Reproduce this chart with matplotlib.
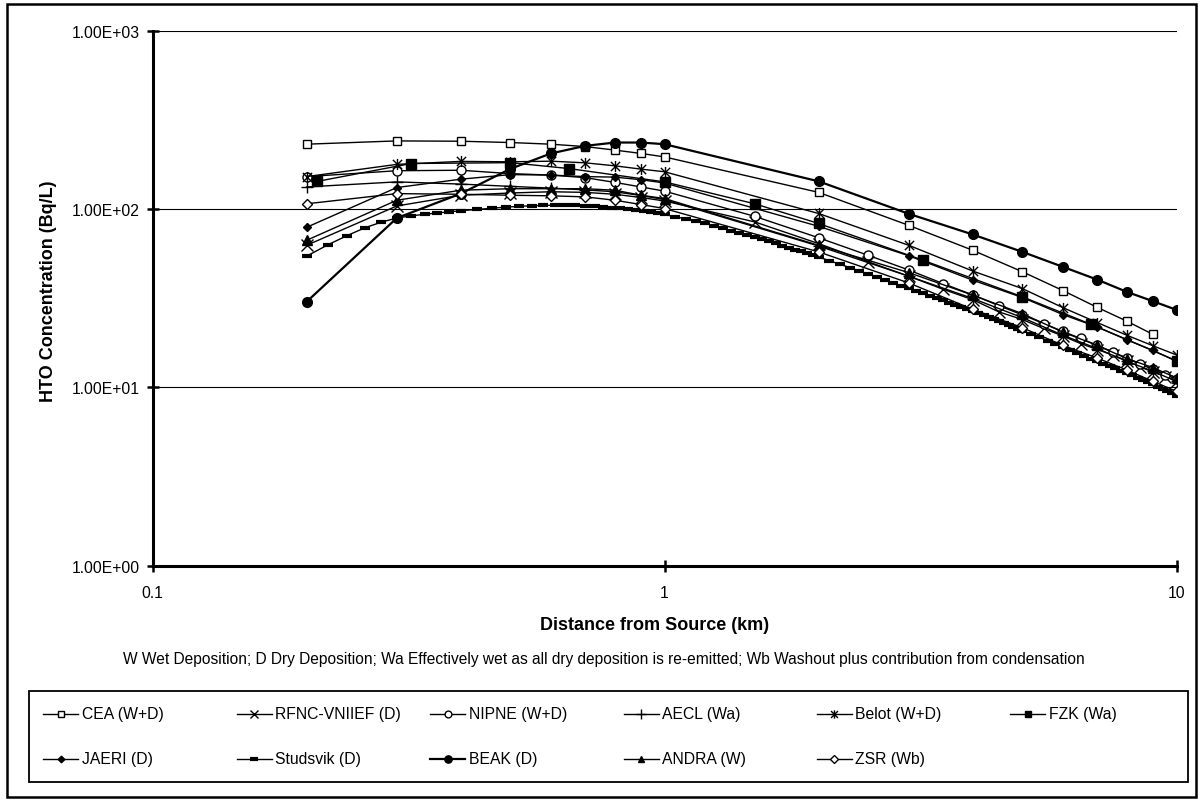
import numpy as np
import matplotlib
matplotlib.use("Agg")
import matplotlib.pyplot as plt
from matplotlib.path import Path
from matplotlib.lines import Line2D
from matplotlib.patches import Rectangle
from matplotlib.ticker import FixedLocator, NullLocator, FuncFormatter

plt.rcParams['font.family'] = ['Liberation Sans', 'DejaVu Sans']

# distances (km) and HTO concentrations (Bq/L) for each model
near_km = [0.2, 0.3, 0.4, 0.5, 0.6, 0.7, 0.8, 0.9, 1.0]
far_km = [2, 3, 4, 5, 6, 7, 8, 9, 10]
half_km = [1.5, 2, 2.5, 3, 3.5, 4, 4.5, 5, 5.5, 6, 6.5, 7, 7.5, 8, 8.5, 9, 9.5, 10]

cea_km = near_km + [2, 3, 4, 5, 6, 7, 8, 9]
cea = [231, 241, 240, 236, 231, 224, 214, 205, 196,
       124, 81, 58.7, 44.5, 34.9, 28.1, 23.5, 19.8]

rfnc_km = near_km + half_km
rfnc = [62.6, 104, 119.5, 123, 125, 124, 121, 116, 111,
        84.7, 64, 50.6, 42, 35.5, 31, 26.5, 24, 21.4, 19.4, 17.6, 16.3,
        15.2, 14.1, 13.0, 12.2, 11.5, 10.9]

nipne_km = near_km + half_km
nipne = [152, 164, 165, 158, 155, 150, 141, 133, 126,
         91, 69, 55, 45.5, 38.2, 33, 28.7, 25.5, 22.8, 20.6, 18.8, 17.2,
         15.8, 14.6, 13.5, 12.6, 11.8, 11.1]

aecl_km = near_km + far_km
aecl = [133, 142, 138, 134, 131, 128, 125, 119, 113,
        62, 42, 31.5, 24.6, 19.6, 16.5, 14, 12.3, 10.8]

belot_km = near_km + far_km
belot = [152, 178, 185, 184, 185.5, 181.6, 174.7, 167.4, 161.8,
         94.4, 62.6, 44.9, 35.8, 28.0, 23.1, 19.6, 17.1, 15.2]

fzk_km = [0.21, 0.32, 0.5, 0.65, 1.0, 1.5, 2.0, 3.2, 5.0, 6.8, 10]
fzk = [143, 180, 182, 168.7, 142, 107, 83, 51.6, 32.2, 22.6, 14.1]

jaeri_km = near_km + far_km
jaeri = [79, 132, 147, 156, 155, 152, 151, 146, 140,
         80, 54.7, 39.9, 31.9, 25.6, 21.8, 18.5, 16.1, 14]

studsvik_km = [0.20, 0.22, 0.24, 0.26, 0.28, 0.30, 0.32, 0.34, 0.36, 0.38,
               0.40, 0.43, 0.46, 0.49, 0.52, 0.55, 0.58, 0.61, 0.64, 0.67,
               0.70, 0.73, 0.76, 0.79, 0.82, 0.85, 0.88, 0.91, 0.94, 0.97,
               1.00, 1.05, 1.10, 1.15, 1.20, 1.25, 1.30, 1.35, 1.40, 1.45,
               1.50, 1.55, 1.60, 1.65, 1.70, 1.75, 1.80, 1.85, 1.90, 1.95,
               2.0, 2.1, 2.2, 2.3, 2.4, 2.5, 2.6, 2.7, 2.8, 2.9,
               3.0, 3.1, 3.2, 3.3, 3.4, 3.5, 3.6, 3.7, 3.8, 3.9,
               4.0, 4.1, 4.2, 4.3, 4.4, 4.5, 4.6, 4.7, 4.8, 4.9,
               5.0, 5.2, 5.4, 5.6, 5.8, 6.0, 6.2, 6.4, 6.6, 6.8,
               7.0, 7.2, 7.4, 7.6, 7.8, 8.0, 8.2, 8.4, 8.6, 8.8,
               9.0, 9.2, 9.4, 9.6, 9.8, 10.0]
studsvik = [54.4, 63, 71, 78.5, 84.5, 89, 91.5, 93.5, 95, 96.5,
            97.8, 99.5, 101, 102.5, 103.5, 104.3, 104.8, 105, 105, 104.8,
            104.4, 103.7, 102.8, 101.8, 100.7, 99.6, 98.4, 97.1, 95.8, 94.5,
            93.2, 90.6, 88.0, 85.5, 83.0, 80.5, 78.0, 75.7, 73.5, 71.5,
            69.5, 67.6, 65.8, 64.1, 62.4, 60.8, 59.3, 57.8, 56.4, 55.1,
            53.8, 51.3, 49.0, 47.0, 45.0, 43.2, 41.5, 40.0, 38.5, 37.2,
            36.0, 34.8, 33.7, 32.7, 31.7, 30.8, 29.9, 29.0, 28.2, 27.4,
            26.7, 26.0, 25.3, 24.7, 24.1, 23.5, 22.9, 22.4, 21.8, 21.3,
            20.8, 19.9, 19.1, 18.3, 17.5, 16.8, 16.2, 15.6, 15.0, 14.5,
            14.1, 13.6, 13.2, 12.8, 12.4, 12.0, 11.7, 11.35, 11.0, 10.7,
            10.4, 10.1, 9.8, 9.5, 9.25, 9.0]

beak_km = near_km + far_km
beak = [30.2, 89, 122, 168, 205, 226, 236, 236, 231,
        143, 94, 72, 57.5, 47.4, 40.2, 34.3, 30.4, 27.2]

andra_km = near_km + far_km
andra = [66.8, 112, 127.5, 130, 130, 130, 127.5, 119.5, 114.5,
         62.6, 44, 32.9, 25.9, 20.4, 17.2, 14.5, 12.9, 11.3]

zsr_km = near_km + far_km
zsr = [107, 122, 121, 119.5, 118.6, 117, 112, 106, 100.6,
       57.5, 38.5, 27.4, 21.6, 17.2, 14.6, 12.5, 10.8, 9.5]

labels = ["CEA (W+D)", "RFNC-VNIIEF (D)", "NIPNE (W+D)", "AECL (Wa)",
          "Belot (W+D)", "FZK (Wa)", "JAERI (D)", "Studsvik (D)",
          "BEAK (D)", "ANDRA (W)", "ZSR (Wb)"]

note = ("W Wet Deposition; D Dry Deposition; Wa Effectively wet as all dry "
        "deposition is re-emitted; Wb Washout plus contribution from condensation")

# asterisk marker: an X with a vertical bar through it
asterisk = Path([(-1, -1), (1, 1), (-1, 1), (1, -1), (0, -1.2), (0, 1.2)],
                [Path.MOVETO, Path.LINETO, Path.MOVETO, Path.LINETO,
                 Path.MOVETO, Path.LINETO])

styles = [
    dict(marker='s', ms=6, mfc='white', mew=1.0, lw=1.0),
    dict(marker='x', ms=8, mew=1.0, lw=1.0),
    dict(marker='o', ms=6.5, mfc='white', mew=1.0, lw=1.0),
    dict(marker='+', ms=9, mew=1.0, lw=1.0),
    dict(marker=asterisk, ms=8, mew=1.0, lw=1.0),
    dict(marker='s', ms=6.5, mfc='black', mew=1.0, lw=1.0),
    dict(marker='D', ms=4.5, mfc='black', mew=1.0, lw=1.0),
    dict(marker='_', ms=7, mew=3.0, lw=1.0),
    dict(marker='o', ms=7, mfc='black', mew=1.0, lw=1.6),
    dict(marker='^', ms=6.5, mfc='black', mew=1.0, lw=1.0),
    dict(marker='D', ms=5, mfc='white', mew=1.0, lw=1.0),
]

series = [(cea_km, cea), (rfnc_km, rfnc), (nipne_km, nipne), (aecl_km, aecl),
          (belot_km, belot), (fzk_km, fzk), (jaeri_km, jaeri),
          (studsvik_km, studsvik), (beak_km, beak), (andra_km, andra),
          (zsr_km, zsr)]

W, H = 1202, 803
fig = plt.figure(figsize=(W / 100, H / 100), dpi=100)
ax = fig.add_axes([152.5 / W, 1 - 566.7 / H, 1024 / W, 535 / H])

for (xs, ys), st in zip(series, styles):
    ax.plot(xs, ys, color='black', mec='black', **st)

ax.set_xscale('log')
ax.set_yscale('log')
ax.set_xlim(0.1, 10)
ax.set_ylim(1, 1000)

ax.xaxis.set_major_locator(FixedLocator([0.1, 1, 10]))
ax.yaxis.set_major_locator(FixedLocator([1, 10, 100, 1000]))
ax.xaxis.set_minor_locator(NullLocator())
ax.yaxis.set_minor_locator(NullLocator())
ax.xaxis.set_major_formatter(FuncFormatter(lambda v, p: f"{v:g}"))
ax.yaxis.set_major_formatter(FuncFormatter(lambda v, p: f"{v:.2E}"))

for side in ['top', 'right']:
    ax.spines[side].set_visible(False)
for side in ['left', 'bottom']:
    ax.spines[side].set_linewidth(2.2)

ax.tick_params(axis='both', which='major', direction='inout', length=8,
               width=1.8, labelsize=11.3, color='black')
ax.tick_params(axis='y', pad=5)
ax.tick_params(axis='x', pad=10)
ax.yaxis.grid(True, color='black', linewidth=0.8)
ax.set_axisbelow(True)

ax.set_ylabel("HTO Concentration (Bq/L)", fontsize=13, fontweight='bold')
ax.yaxis.set_label_coords(-0.102, 0.515)
ax.yaxis.label.set_va('center')
ax.set_xlabel("Distance from Source (km)", fontsize=13, fontweight='bold')
ax.xaxis.set_label_coords(0.49, -0.109)
ax.xaxis.label.set_va('center')

fig.text(604 / W, 1 - 660 / H, note, ha='center', va='center', fontsize=11.2)

# legend box drawn by hand so the columns sit on an even grid
fig.add_artist(Rectangle((29.3 / W, 1 - 782.7 / H), (1188 - 29.3) / W,
                         (782.7 - 692.3) / H, transform=fig.transFigure,
                         fill=False, edgecolor='black', linewidth=1.3))
for i, (lab, st) in enumerate(zip(labels, styles)):
    col, row = i % 6, i // 6
    x0 = 43.3 + 193.4 * col
    y0 = 1 - (715 + 45 * row) / H
    leg_st = dict(st)
    leg_st['ms'] = st['ms'] * 0.75
    fig.add_artist(Line2D([x0 / W, (x0 + 35) / W], [y0, y0],
                          transform=fig.transFigure, color='black',
                          lw=st['lw']))
    fig.add_artist(Line2D([(x0 + 17.5) / W], [y0], transform=fig.transFigure,
                          color='black', mec='black', linestyle='none',
                          **{k: v for k, v in leg_st.items() if k != 'lw'}))
    fig.text((x0 + 38.5) / W, y0, lab, ha='left', va='center', fontsize=11.3)

# outer chart border
fig.add_artist(Rectangle((7 / W, 1 - 798 / H), (1196 - 7) / W, (798 - 5) / H,
                         transform=fig.transFigure, fill=False,
                         edgecolor='black', linewidth=1.8))

fig.savefig("out.png", dpi=100)
